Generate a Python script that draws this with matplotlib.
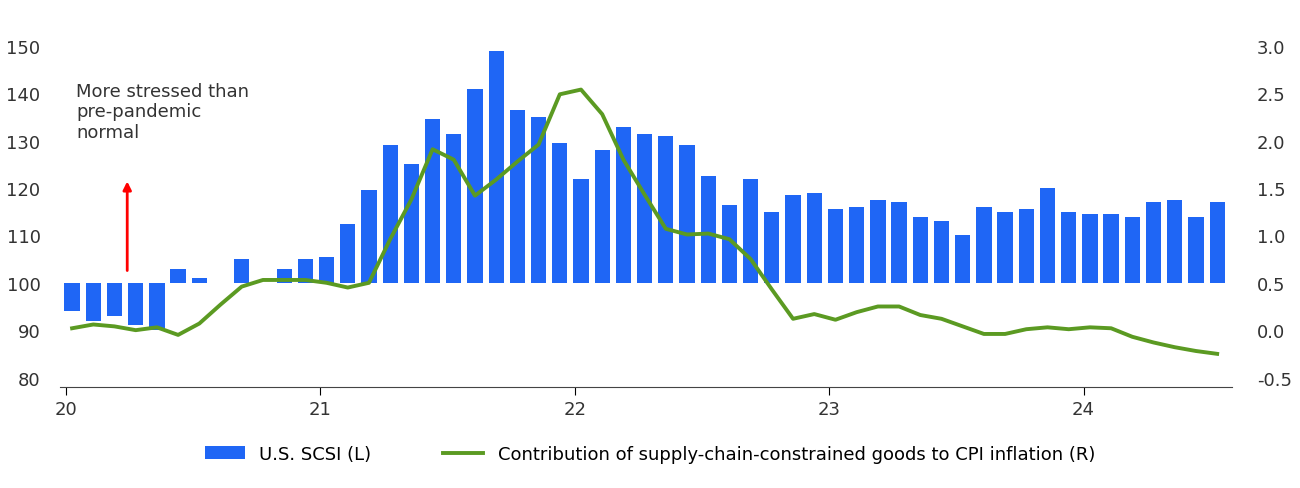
import matplotlib
matplotlib.use("Agg")
import matplotlib.pyplot as plt
import numpy as np

scsi = [94, 92, 93, 91, 90, 103, 101, 100, 105, 100, 103, 105, 105.5, 112.5, 119.5, 129, 125,
        134.5, 131.5, 141, 149, 136.5, 135, 129.5, 122, 128, 133, 131.5, 131, 129, 122.5, 116.5,
        122, 115, 118.5, 119, 115.5, 116, 117.5, 117, 114, 113, 110, 116, 115, 115.5, 120, 115,
        114.5, 114.5, 114, 117, 117.5, 114, 117]
cpi = [0.02, 0.06, 0.04, 0.0, 0.03, -0.05, 0.07, 0.27, 0.46, 0.53, 0.53, 0.53, 0.5, 0.45, 0.5,
       0.96, 1.38, 1.91, 1.8, 1.42, 1.59, 1.78, 1.96, 2.49, 2.54, 2.28, 1.8, 1.43, 1.07, 1.01,
       1.02, 0.96, 0.75, 0.43, 0.12, 0.17, 0.11, 0.19, 0.25, 0.25, 0.16, 0.12, 0.04, -0.04, -0.04,
       0.01, 0.03, 0.01, 0.03, 0.02, -0.07, -0.13, -0.18, -0.22, -0.25]
year_labels = ["20", "21", "22", "23", "24"]
left_ticks = [80, 90, 100, 110, 120, 130, 140, 150]
right_ticks = [-0.5, 0.0, 0.5, 1.0, 1.5, 2.0, 2.5, 3.0]

x = np.arange(len(scsi))
fig = plt.figure(figsize=(13, 4.89), dpi=100)
ax = fig.add_axes([60/1300, 1-388/489, 1172/1300, 341/489])
bars = ax.bar(x, np.array(scsi) - 100, bottom=100, width=0.72, color="#1f66f5",
              label="U.S. SCSI (L)")
ax.set_ylim(78, 150)
ax.set_xlim(-0.57, 54.7)
ax.set_yticks(left_ticks)
ax2 = ax.twinx()
line, = ax2.plot(x, cpi, color="#5b9a22", lw=2.8,
                 label="Contribution of supply-chain-constrained goods to CPI inflation (R)")
ax2.set_ylim(-0.6, 3.0)
ax2.set_yticks(right_ticks)
ax2.set_yticklabels([f"{v:.1f}" for v in right_ticks])
for a in (ax, ax2):
    for s in ("top", "left", "right"):
        a.spines[s].set_visible(False)
    a.tick_params(axis="y", length=0, labelsize=13, colors="#333333")
ax2.spines["bottom"].set_visible(False)
ax.spines["bottom"].set_color("#444444")
ax.tick_params(axis="y", pad=14)
ax2.tick_params(axis="y", pad=18)
ax.set_xticks([12*i - 0.3 for i in range(5)])
ax.set_xticklabels(year_labels, fontsize=13, color="#333333")
ax.tick_params(axis="x", length=6, direction="out")
ax.text(0.2, 142.5, "More stressed than\npre-pandemic\nnormal", fontsize=13, va="top", color="#333333")
ax.annotate("", xy=(2.6, 122), xytext=(2.6, 102),
            arrowprops=dict(arrowstyle="-|>", color="red", lw=2, mutation_scale=12))
fig.legend(handles=[bars, line], loc="center", bbox_to_anchor=(0.5, 1-455/489), ncol=2,
           frameon=False, fontsize=13, handlelength=2.2, columnspacing=4)
fig.savefig("out.png", dpi=100)
